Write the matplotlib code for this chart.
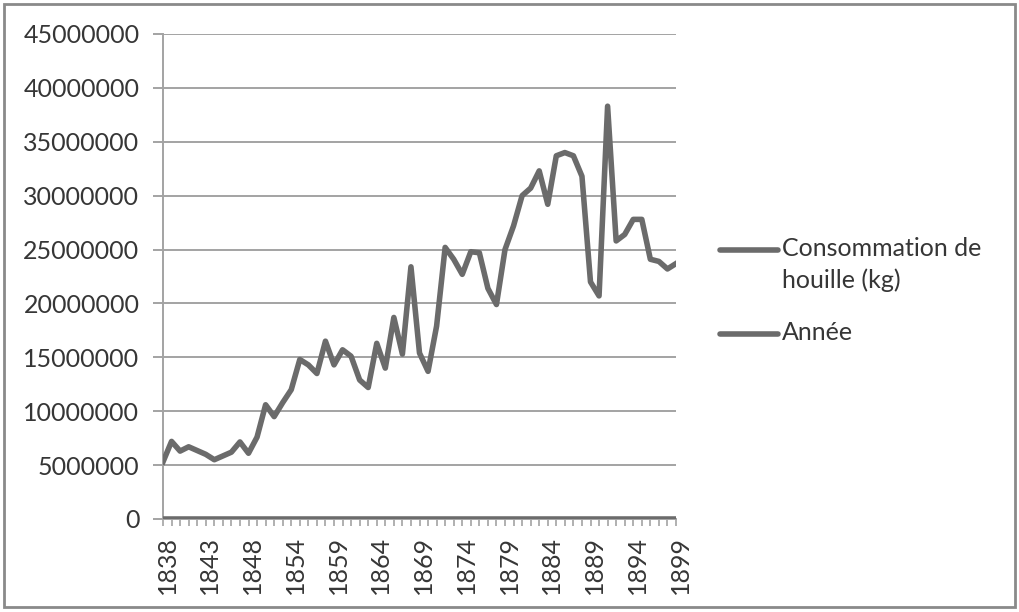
import numpy as np
import matplotlib.pyplot as plt
from matplotlib.lines import Line2D
from matplotlib.patches import Rectangle
from matplotlib.ticker import FixedLocator, MultipleLocator, StrMethodFormatter
from matplotlib.transforms import ScaledTranslation

# Années (une année manque entre 1848 et 1854)
years = [y for y in range(1838, 1900) if y != 1851]

# Consommation de houille (kg)
consommation = [
    5300000, 7200000, 6300000, 6700000, 6350000, 6000000, 5500000, 5850000,
    6200000, 7150000, 6100000, 7600000, 10600000, 9500000, 10800000, 12000000,
    14800000, 14300000, 13500000, 16500000, 14300000, 15700000, 15100000,
    12900000, 12200000, 16300000, 14000000, 18700000, 15300000, 23400000,
    15400000, 13700000, 17900000, 25200000, 24100000, 22700000, 24800000,
    24700000, 21400000, 19900000, 25000000, 27200000, 30000000, 30700000,
    32300000, 29200000, 33700000, 34000000, 33700000, 31800000, 22000000,
    20700000, 38300000, 25800000, 26400000, 27800000, 27800000, 24100000,
    23900000, 23200000, 23700000,
]
annee = years

labels = ['Consommation de\nhouille (kg)', 'Année']

line_color = '#6b6b6b'
grid_color = '#a3a3a3'
text_color = '#363636'
fs = 18

plt.rcParams['font.family'] = ['Lato', 'DejaVu Sans']

fig = plt.figure(figsize=(10.19, 6.12), dpi=100)
ax = fig.add_axes([163 / 1019, 1 - 519 / 612, (676 - 163) / 1019, (519 - 34) / 612])

x = np.arange(len(years))
ax.plot(x, consommation, color=line_color, lw=4, solid_joinstyle='round', zorder=3)
ax.plot(x, annee, color=line_color, lw=4, zorder=3)

ax.set_xlim(0, len(years) - 1)
ax.set_ylim(0, 45000000)
ax.yaxis.set_major_locator(MultipleLocator(5000000))
ax.yaxis.set_major_formatter(StrMethodFormatter('{x:.0f}'))

ax.xaxis.set_major_locator(FixedLocator(x[::5]))
ax.set_xticklabels([str(y) for y in years[::5]], rotation=90)
ax.xaxis.set_minor_locator(FixedLocator(x))

ax.grid(axis='y', color=grid_color, lw=1.4)
ax.set_axisbelow(True)
for s in ['top', 'right']:
    ax.spines[s].set_visible(False)
for s in ['left', 'bottom']:
    ax.spines[s].set_color(grid_color)
    ax.spines[s].set_linewidth(1.4)

ax.tick_params(axis='y', length=7, width=1.4, color=grid_color, pad=10,
               labelsize=fs, labelcolor=text_color)
ax.tick_params(axis='x', which='both', length=5, width=1.2, color=grid_color,
               pad=7, labelsize=fs, labelcolor=text_color)

shift = ScaledTranslation(4 / 100, 0, fig.dpi_scale_trans)
for lab in ax.get_xticklabels():
    lab.set_transform(lab.get_transform() + shift)

# légende à droite (poignée alignée sur la première ligne du texte)
def fy(py):
    return 1 - py / 612

for label, py in zip(labels, [250, 334]):
    fig.add_artist(Line2D([720 / 1019, 778 / 1019], [fy(py), fy(py)],
                          color=line_color, lw=4, solid_capstyle='round'))
    fig.text(782 / 1019, fy(py - 13), label, fontsize=fs, color=text_color,
             ha='left', va='top', linespacing=1.45)

fig.patches.append(Rectangle((4 / 1019, 5 / 612), 1011 / 1019, 603 / 612,
                             transform=fig.transFigure, fill=False,
                             edgecolor='#8a8a8a', lw=2))

fig.savefig('out.png', dpi=100)
